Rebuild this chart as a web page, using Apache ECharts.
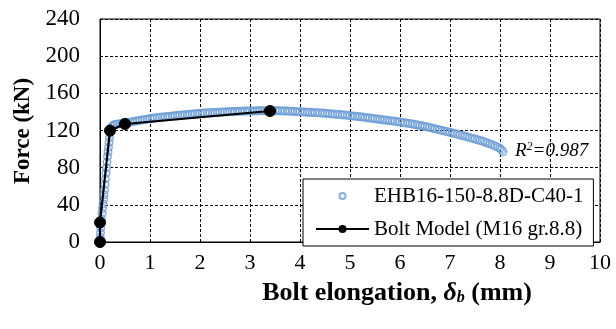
<!DOCTYPE html>
<html><head><meta charset="utf-8">
<script src="https://cdn.jsdelivr.net/npm/echarts@6/dist/echarts.min.js"></script>
<style>html,body{margin:0;padding:0;background:#fff}#c{width:616px;height:329px}</style>
</head><body><div id="c"></div>
<script>
var expX = [0,0.005,0.01,0.015,0.02,0.03,0.04,0.05,0.06,0.07,0.08,0.09,0.1,0.11,0.12,0.13,0.14,0.15,0.16,0.17,0.18,0.19,0.2,0.22,0.24,0.27,
  0.30,0.35,0.40,0.45,0.50,0.55,0.60,0.65,0.70,0.75,0.80,0.85,0.90,0.95,1.00,
  1.05,1.10,1.15,1.20,1.25,1.30,1.35,1.40,1.45,1.50,1.55,1.60,1.65,1.70,1.75,1.80,1.85,1.90,1.95,2.00,
  2.05,2.10,2.15,2.20,2.25,2.30,2.35,2.40,2.45,2.50,2.55,2.60,2.65,2.70,2.75,2.80,2.85,2.90,2.95,3.00,
  3.05,3.10,3.15,3.20,3.25,3.30,3.35,3.40,3.45,3.50,3.55,3.60,3.65,3.70,3.75,3.80,3.85,3.90,3.95,4.00,
  4.05,4.10,4.15,4.20,4.25,4.30,4.35,4.40,4.45,4.50,4.55,4.60,4.65,4.70,4.75,4.80,4.85,4.90,4.95,5.00,
  5.05,5.10,5.15,5.20,5.25,5.30,5.35,5.40,5.45,5.50,5.55,5.60,5.65,5.70,5.75,5.80,5.85,5.90,5.95,6.00,
  6.05,6.10,6.15,6.20,6.25,6.30,6.35,6.40,6.45,6.50,6.55,6.60,6.65,6.70,6.75,6.80,6.85,6.90,6.95,7.00,
  7.05,7.10,7.15,7.20,7.25,7.30,7.35,7.40,7.45,7.50,7.55,7.60,7.65,7.70,7.75,7.80,7.85,7.90,7.95,8.00,8.03,8.06];
var expY = [0,5,10,15,20,25,31,36,41,46,51,56,62,68,74,80,86,92,97,102,107,112,117,121,124,126,
  126.5,127,127.3,127.7,128,128.5,129,129.5,130,130.5,131,131.4,131.8,132.3,132.8,
  133.1,133.5,133.9,134.2,134.5,134.8,135.1,135.4,135.7,136,136.3,136.5,136.8,137,137.3,137.5,137.8,138,138.3,138.5,
  138.6,138.8,139,139.1,139.3,139.4,139.6,139.7,139.9,140,140.2,140.3,140.4,140.5,140.6,140.7,140.8,140.9,141,141,
  141.1,141.1,141.2,141.2,141.3,141.3,141.3,141.3,141.3,141.3,141.2,141.2,141.1,141,140.9,140.8,140.6,140.5,140.3,140.2,
  140,139.9,139.7,139.6,139.4,139.2,139,138.9,138.7,138.5,138.3,138.1,137.8,137.6,137.3,137.1,136.8,136.6,136.3,136,
  135.7,135.4,135.1,134.8,134.4,134.1,133.7,133.4,133,132.7,132.3,132,131.6,131.3,130.9,130.6,130.2,129.9,129.5,129.2,
  128.7,128.3,127.8,127.4,126.9,126.4,125.9,125.4,124.8,124.3,123.7,123.1,122.5,121.9,121.2,120.6,119.9,119.3,118.6,118,
  117.3,116.6,115.9,115.2,114.5,113.8,113,112.3,111.5,110.8,110,109.2,108.3,107.5,106.6,105.6,104.5,103.4,102.1,100.8,99.2,97];
var modelX = [0, 0, 0.2, 0.5, 3.4];
var modelY = [0, 21, 120, 127, 141];
var xTicks = [0,1,2,3,4,5,6,7,8,9,10];
var yTicks = [0,40,80,120,160,200,240];
var expName = 'EHB16-150-8.8D-C40-1';
var modelName = 'Bolt Model (M16 gr.8.8)';
var r2Text = '0.987';

var FONT = '"Liberation Serif","Times New Roman",serif';
var expData = expX.map(function(x,i){return [x, expY[i]];});
var modelData = modelX.map(function(x,i){return [x, modelY[i]];});

var chart = echarts.init(document.getElementById('c'), null, {renderer:'canvas'});
chart.setOption({
  animation:false,
  backgroundColor:'#fff',
  grid:{left:100,right:16,top:19,bottom:87,show:true,borderColor:'#000',borderWidth:1,backgroundColor:'transparent'},
  xAxis:{type:'value',min:xTicks[0],max:xTicks[xTicks.length-1],interval:1,
    axisLine:{show:true,onZero:false,lineStyle:{color:'#000',width:1}},
    axisTick:{show:false},
    axisLabel:{color:'#000',fontFamily:FONT,fontSize:22,margin:10},
    splitLine:{show:true,lineStyle:{color:'#000',type:[3,2],width:1}}},
  yAxis:{type:'value',min:yTicks[0],max:yTicks[yTicks.length-1],interval:40,
    axisLine:{show:true,onZero:false,lineStyle:{color:'#000',width:1}},
    axisTick:{show:false},
    axisLabel:{color:'#000',fontFamily:FONT,fontSize:23,margin:20},
    splitLine:{show:true,lineStyle:{color:'#000',type:[3,2],width:1}}},
  legend:{orient:'vertical',left:303,top:179,
    backgroundColor:'#fff',borderColor:'#000',borderWidth:1,borderRadius:0,
    padding:[6,10,6,12],itemGap:11,itemWidth:53,itemHeight:10,
    textStyle:{fontFamily:FONT,fontSize:21,color:'#000',lineHeight:22},
    data:[{name:expName,icon:'path://M0,0M10,10M2,5a3,3 0 1,0 6,0a3,3 0 1,0 -6,0'},{name:modelName}]},
  series:[
    {name:expName,type:'scatter',data:expData,symbol:'circle',symbolSize:7.5,z:2,
      itemStyle:{color:'rgba(255,255,255,0)',borderColor:'#6a9bd4',borderWidth:1.5}},
    {name:modelName,type:'line',data:modelData,symbol:'circle',symbolSize:11,z:3,
      lineStyle:{color:'#000',width:2.2},itemStyle:{color:'#000',borderColor:'#000'}}
  ],
  graphic:[
    {type:'text',left:515,top:141,z:10,style:{rich:{
        i:{fontFamily:FONT,fontSize:19,fontStyle:'italic',fill:'#000'},
        s:{fontFamily:FONT,fontSize:12,fontStyle:'italic',fill:'#000',verticalAlign:'top',padding:[0,0,8,0]}},
      text:'{i|R}{s|2}{i|='+r2Text+'}'}},
    {type:'text',x:397,y:293,z:10,style:{align:'center',verticalAlign:'middle',rich:{
        b:{fontFamily:FONT,fontSize:26,fontWeight:'bold',fill:'#000'},
        bi:{fontFamily:FONT,fontSize:26,fontWeight:'bold',fontStyle:'italic',fill:'#000'},
        sub:{fontFamily:FONT,fontSize:16,fontWeight:'bold',fontStyle:'italic',fill:'#000',padding:[10,0,0,0]}},
      text:'{b|Bolt elongation, }{bi|δ}{sub|b}{b| (mm)}'}},
    {type:'text',x:23,y:131,rotation:Math.PI/2,z:10,style:{align:'center',verticalAlign:'middle',
      text:'Force (kN)',fontFamily:FONT,fontSize:23,fontWeight:'bold',fill:'#000'}}
  ]
});
</script></body></html>
